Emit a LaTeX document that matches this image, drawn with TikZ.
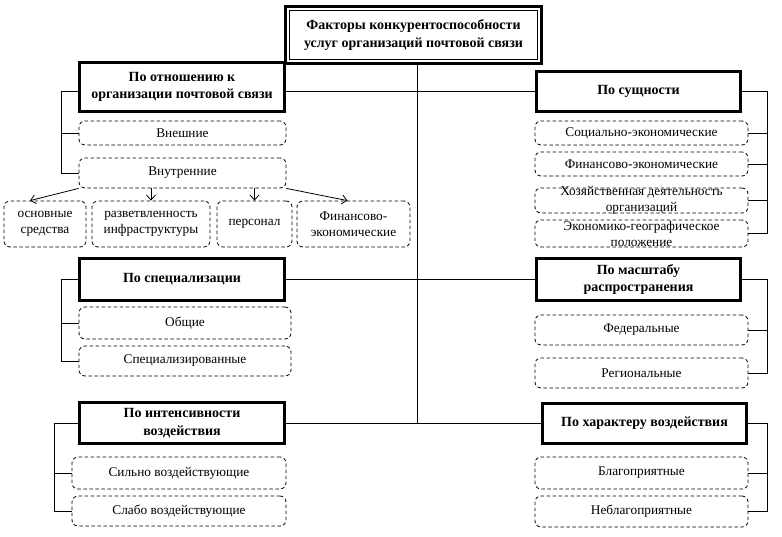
\documentclass[tikz,border=0pt]{standalone}
\usepackage{fontspec}
\setmainfont{Liberation Serif}
\usetikzlibrary{arrows.meta,positioning,calc}

\begin{document}
\begin{tikzpicture}[x=1pt,y=-1pt,
  every node/.style={font=\fontsize{13.3}{16}\selectfont, align=center, inner sep=0pt},
  head/.style={draw, line width=3pt, font=\fontsize{14}{17.5}\selectfont\bfseries},
  item/.style={draw, dash pattern=on 3.5pt off 2.5pt, rounded corners=6pt, line width=0.8pt},
  link/.style={line width=0.8pt},
  arr/.style={link, -{Straight Barb[length=5pt,width=9pt]}}]
\useasboundingbox (0,0) rectangle (782,536);

\node[head, line width=2.6pt, minimum width=256pt, minimum height=57pt] (top) at (413.5,35) {Факторы конкурентоспособности\\услуг организаций почтовой связи};
\draw[line width=0.8pt] ([shift={(5,5)}]top.north west) rectangle ([shift={(-5,-5)}]top.south east);

\node[head, minimum width=205pt, minimum height=49pt] (rel) at (182,87) {По отношению к\\организации почтовой связи};
\node[item, minimum width=207pt, minimum height=24pt] (ext) at (182.5,133) {Внешние};
\node[item, minimum width=207pt, minimum height=30pt] (inn) at (182.5,173) {Внутренние};

\node[item, minimum width=82pt, minimum height=46pt] (b1) at (45,224) {основные\\средства};
\node[item, minimum width=118pt, minimum height=46pt] (b2) at (151,224) {разветвленность\\инфраструктуры};
\node[item, minimum width=75pt, minimum height=46pt] (b3) at (254.5,224) {персонал};
\node[item, minimum width=113pt, minimum height=46pt] (b4) at (353.5,224) {Финансово-\\экономические};

\node[head, minimum width=205pt, minimum height=42pt] (spec) at (182,279.5) {По специализации};
\node[item, minimum width=212pt, minimum height=32pt] (gen) at (185,323) {Общие};
\node[item, minimum width=212pt, minimum height=30pt] (spz) at (185,361) {Специализированные};

\node[head, minimum width=205pt, minimum height=41pt] (int) at (182,423) {По интенсивности\\воздействия};
\node[item, minimum width=214pt, minimum height=32pt] (str) at (179,473) {Сильно воздействующие};
\node[item, minimum width=214pt, minimum height=30pt] (wk) at (179,511) {Слабо воздействующие};

\node[head, minimum width=204pt, minimum height=40pt] (ess) at (638.5,91.5) {По сущности};
\node[item, minimum width=213pt, minimum height=24pt] (e1) at (641.5,133) {Социально-экономические};
\node[item, minimum width=213pt, minimum height=24pt] (e2) at (641.5,164) {Финансово-экономические};
\node[item, minimum width=213pt, minimum height=25pt, label=center:{Хозяйственная деятельность\\организаций}] (e3) at (641.5,200.5) {};
\node[item, minimum width=213pt, minimum height=27pt, label=center:{Экономико-географическое\\положение}] (e4) at (641.5,233.5) {};

\node[head, minimum width=204pt, minimum height=42pt] (scale) at (638.5,279.5) {По масштабу\\распространения};
\node[item, minimum width=213pt, minimum height=30pt] (fed) at (641.5,330) {Федеральные};
\node[item, minimum width=213pt, minimum height=30pt] (reg) at (641.5,373) {Региональные};

\node[head, minimum width=204pt, minimum height=40pt] (char) at (644.5,423) {По характеру воздействия};
\node[item, minimum width=213pt, minimum height=32pt] (fav) at (641.5,473) {Благоприятные};
\node[item, minimum width=213pt, minimum height=31pt] (unf) at (641.5,511.5) {Неблагоприятные};

\coordinate (trunk) at (417,423);
\draw[link] (trunk |- top.south) -- (trunk);
\draw[link] (rel.east |- ess.west) -- (ess.west);
\draw[link] (spec.east) -- (scale.west);
\draw[link] (int.east) -- (char.west);

\coordinate (lb) at (61,0);
\coordinate (lbi) at (54,0);
\coordinate (rb) at (767,0);
\draw[link] (rel.west |- ess) -- (lb |- ess) |- (inn.west);
\draw[link] (ext.west) -- (lb |- ext);
\draw[link] (spec.west) -- (lb |- spec) |- (spz.west);
\draw[link] (gen.west) -- (lb |- gen);
\draw[link] (int.west) -- (lbi |- int) |- (wk.west);
\draw[link] (str.west) -- (lbi |- str);

\draw[link] (ess.east) -- (rb |- ess) |- (e4.east);
\foreach \n in {e1,e2,e3}
  \draw[link] (\n.east) -- (rb |- \n);
\draw[link] (scale.east) -- (rb |- scale) |- (reg.east);
\draw[link] (fed.east) -- (rb |- fed);
\draw[link] (char.east) -- (rb |- char) |- (unf.east);
\draw[link] (fav.east) -- (rb |- fav);

\draw[arr] (inn.south west) -- ([xshift=-15pt]b1.north);
\draw[arr] (inn.south -| b2) -- (b2.north);
\draw[arr] (inn.south -| b3) -- (b3.north);
\draw[arr] (inn.south east) -- ([xshift=-6pt]b4.north);
\end{tikzpicture}
\end{document}
